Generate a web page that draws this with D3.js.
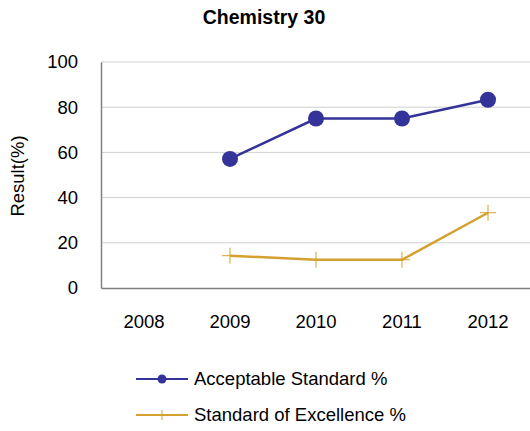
<!DOCTYPE html>
<html><head><meta charset="utf-8">
<script src="https://cdn.jsdelivr.net/npm/d3@7"></script>
<style>body{margin:0;background:#fff}svg{display:block;font-family:"Liberation Sans",Arial,sans-serif}</style>
</head><body><svg id="c" width="530" height="431"></svg>
<script>
const years = ["2008","2009","2010","2011","2012"];
const acceptable = [null, 57.1, 75.0, 75.0, 83.3];
const excellence = [null, 14.3, 12.5, 12.5, 33.3];
const yTicks = [0,20,40,60,80,100];
const seriesNames = ["Acceptable Standard %","Standard of Excellence %"];
const colors = ["#333399","#D4A030"];

const svg = d3.select("#c");
const L=101, R=531, T=62, B=288;
const x = d3.scaleBand().domain(years).range([L,R]);
const y = d3.scaleLinear().domain([0,100]).range([B,T]);
const FF = "Liberation Sans, Arial, sans-serif";

svg.append("text").attr("x",264).attr("y",24).attr("text-anchor","middle")
  .attr("font-size",19.5).attr("font-weight","bold").text("Chemistry 30");

svg.append("g").selectAll("line").data(yTicks.filter(d=>d>0)).join("line")
  .attr("x1",L).attr("x2",R).attr("y1",d=>y(d)).attr("y2",d=>y(d))
  .attr("stroke","#d0d0d0").attr("stroke-width",1);

const ya = svg.append("g").attr("transform",`translate(${L},0)`)
  .call(d3.axisLeft(y).tickValues(yTicks).tickSize(0).tickPadding(23));
ya.select(".domain").attr("stroke","#808080").attr("stroke-width",1.5);
ya.selectAll("text").attr("font-size",18.5).attr("fill","#000").attr("font-family",FF);

const xa = svg.append("g").attr("transform",`translate(0,${B})`)
  .call(d3.axisBottom(x).tickSize(0).tickPadding(27));
xa.select(".domain").attr("stroke","#808080").attr("stroke-width",1.5);
xa.selectAll("text").attr("font-size",18.5).attr("fill","#000").attr("font-family",FF);

svg.append("text").attr("transform","translate(24,176) rotate(-90)")
  .attr("text-anchor","middle").attr("font-size",18.5).text("Result(%)");

const cx = d => x(d)+x.bandwidth()/2;
const line = d3.line().defined(d=>d[1]!=null).x(d=>cx(d[0])).y(d=>y(d[1]));

svg.append("path").datum(years.map((d,i)=>[d,acceptable[i]]))
  .attr("d",line).attr("fill","none").attr("stroke",colors[0]).attr("stroke-width",2.5);
svg.append("g").selectAll("circle").data(years.map((d,i)=>[d,acceptable[i]]).filter(d=>d[1]!=null))
  .join("circle").attr("cx",d=>cx(d[0])).attr("cy",d=>y(d[1])).attr("r",8).attr("fill",colors[0]);

svg.append("path").datum(years.map((d,i)=>[d,excellence[i]]))
  .attr("d",line).attr("fill","none").attr("stroke",colors[1]).attr("stroke-width",2.5);
const ex = svg.append("g").selectAll("g").data(years.map((d,i)=>[d,excellence[i]]).filter(d=>d[1]!=null))
  .join("g").attr("transform",d=>`translate(${cx(d[0])},${y(d[1])})`);
ex.append("line").attr("x1",-8).attr("x2",8).attr("stroke",colors[1]).attr("stroke-width",1);
ex.append("line").attr("y1",-8).attr("y2",8).attr("stroke",colors[1]).attr("stroke-width",1);

const lg = svg.append("g").selectAll("g").data(seriesNames).join("g")
  .attr("transform",(d,i)=>`translate(136,${379+i*36})`);
lg.append("line").attr("x1",0).attr("x2",52).attr("stroke",(d,i)=>colors[i]).attr("stroke-width",2);
lg.filter((d,i)=>i===0).append("circle").attr("cx",26).attr("r",4.5).attr("fill",colors[0]);
lg.filter((d,i)=>i===1).append("line").attr("x1",26).attr("x2",26).attr("y1",-5).attr("y2",5).attr("stroke",colors[1]).attr("stroke-width",1);
lg.append("text").attr("x",58).attr("y",6).attr("font-size",18.5).text(d=>d);
</script></body></html>
